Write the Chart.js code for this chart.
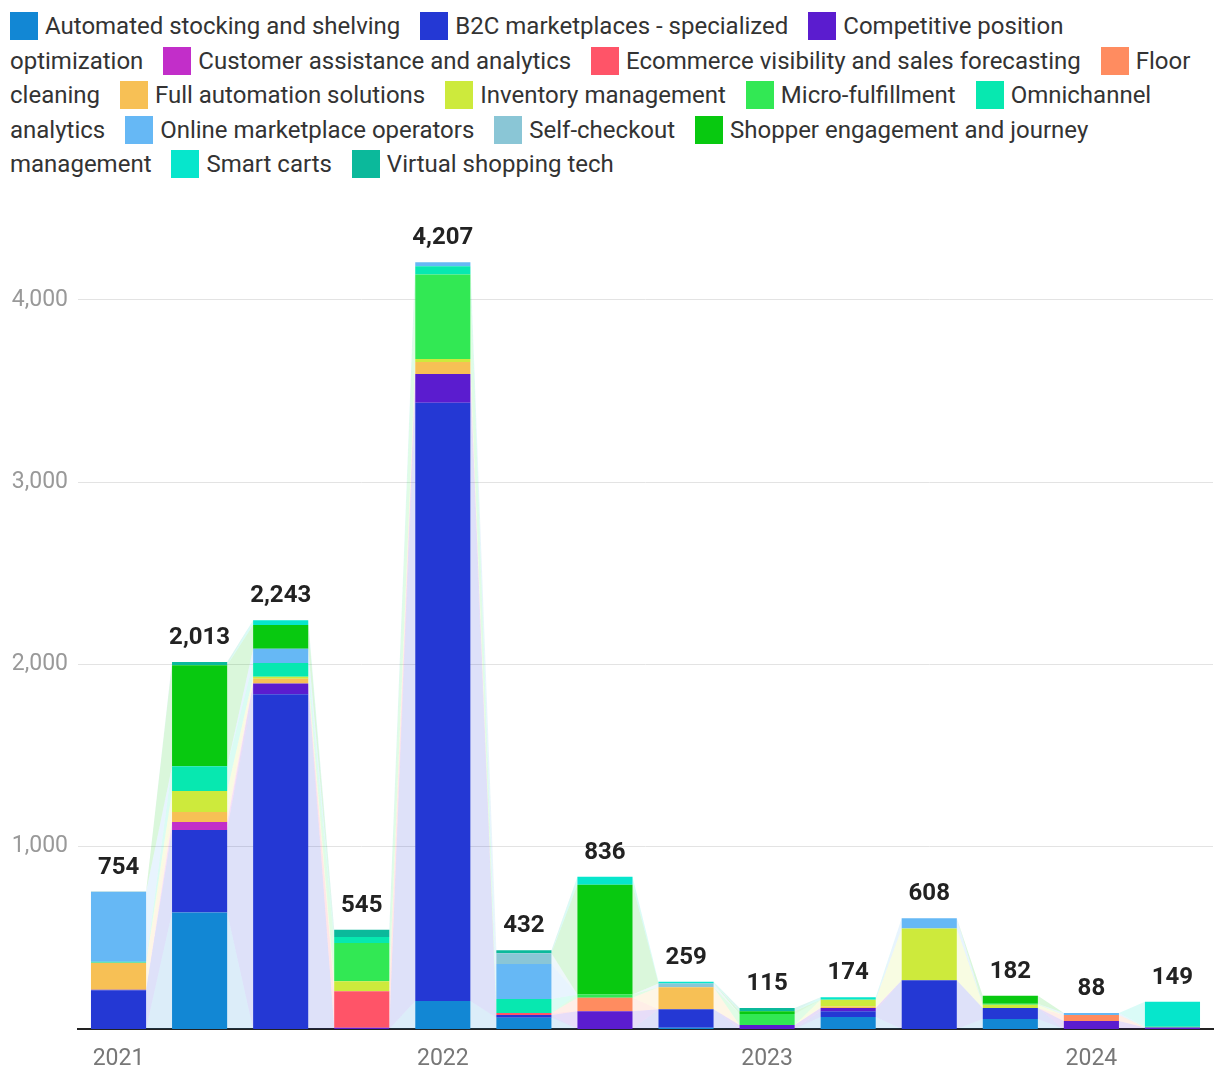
<!DOCTYPE html>
<html>
<head>
<meta charset="utf-8">
<script src="https://cdn.jsdelivr.net/npm/chart.js@4"></script>
<style>
  body { margin: 0; background: #fff; font-family: Roboto, sans-serif; }
  #legend {
    position: absolute; left: 10px; top: 9px; width: 1185px;
    font-size: 24px; line-height: 34.5px; color: #333;
  }
  #legend .item { margin-right: 14px; }
  #legend .sw {
    display: inline-block; width: 28px; height: 28px;
    margin-right: 7px; vertical-align: -6px;
  }
  #wrap { position: absolute; left: 0; top: 185px; width: 1220px; height: 903px; }
</style>
</head>
<body>
<div id="legend"></div>
<div id="wrap"><canvas id="chart"></canvas></div>
<script>
const quarters = ['2021 Q1', '2021 Q2', '2021 Q3', '2021 Q4', '2022 Q1', '2022 Q2', '2022 Q3', '2022 Q4',
  '2023 Q1', '2023 Q2', '2023 Q3', '2023 Q4', '2024 Q1', '2024 Q2'];

const seriesNames = ['Automated stocking and shelving', 'B2C marketplaces - specialized', 'Competitive position optimization',
  'Customer assistance and analytics', 'Ecommerce visibility and sales forecasting', 'Floor cleaning',
  'Full automation solutions', 'Inventory management', 'Micro-fulfillment', 'Omnichannel analytics',
  'Online marketplace operators', 'Self-checkout', 'Shopper engagement and journey management',
  'Smart carts', 'Virtual shopping tech'];

const seriesColors = ['#1287d4', '#2438d4', '#5b1ccf', '#c22ec9', '#ff5468', '#ff8c60', '#f7c055', '#cdea3c',
  '#32e854', '#07e8b0', '#66b8f5', '#8ac6d6', '#08c910', '#06e6cc', '#0bb99b'];

const automatedStocking = [0, 639, 0, 0, 153, 62, 0, 7, 0, 66, 0, 55, 0, 0];
const b2cMarketplaces   = [212, 453, 1837, 0, 3283, 15, 0, 102, 0, 31, 268, 60, 0, 0];
const competitivePos    = [4, 0, 58, 7, 158, 0, 98, 0, 22, 18, 0, 0, 44, 8];
const customerAssist    = [0, 44, 0, 0, 0, 0, 0, 0, 0, 0, 0, 0, 0, 0];
const ecommerceVis      = [0, 0, 0, 200, 0, 11, 0, 0, 0, 0, 0, 0, 0, 0];
const floorCleaning     = [0, 0, 0, 0, 0, 0, 73, 0, 0, 0, 0, 0, 33, 0];
const fullAutomation    = [148, 55, 27, 0, 66, 0, 0, 120, 0, 8, 0, 0, 0, 0];
const inventoryMgmt     = [0, 115, 11, 55, 16, 0, 0, 0, 0, 38, 284, 18, 0, 0];
const microFulfillment  = [0, 0, 0, 210, 464, 0, 18, 0, 60, 0, 0, 5, 0, 5];
const omnichannel       = [5, 135, 75, 33, 45, 76, 0, 0, 0, 0, 0, 0, 0, 0];
const onlineMarketplace = [382, 0, 78, 0, 22, 193, 0, 0, 0, 0, 56, 0, 11, 0];
const selfCheckout      = [3, 0, 0, 0, 0, 58, 0, 20, 0, 0, 0, 0, 0, 0];
const shopperEngagement = [0, 555, 131, 0, 0, 0, 603, 0, 16, 0, 0, 44, 0, 0];
const smartCarts        = [0, 0, 26, 0, 0, 0, 44, 10, 0, 13, 0, 0, 0, 136];
const virtualShopping   = [0, 17, 0, 40, 0, 17, 0, 0, 17, 0, 0, 0, 0, 0];

const seriesValues = [automatedStocking, b2cMarketplaces, competitivePos, customerAssist, ecommerceVis,
  floorCleaning, fullAutomation, inventoryMgmt, microFulfillment, omnichannel, onlineMarketplace,
  selfCheckout, shopperEngagement, smartCarts, virtualShopping];

const yTicks = [1000, 2000, 3000, 4000];

// html legend so long names wrap like the original
const legend = document.getElementById('legend');
legend.innerHTML = seriesNames.map((n, i) =>
  '<span class="item"><span class="sw" style="background:' + seriesColors[i] + '"></span>' + n + '</span>'
).join(' ');

const totals = quarters.map((q, i) => seriesValues.reduce((s, arr) => s + arr[i], 0));

function hexAlpha(hex, a) {
  const r = parseInt(hex.slice(1, 3), 16), g = parseInt(hex.slice(3, 5), 16), b = parseInt(hex.slice(5, 7), 16);
  return 'rgba(' + r + ',' + g + ',' + b + ',' + a + ')';
}

// translucent bands joining each segment to the same segment in the next bar
const bandPlugin = {
  id: 'bands',
  beforeDatasetsDraw(chart) {
    const ctx = chart.ctx;
    ctx.save();
    chart.data.datasets.forEach((ds, d) => {
      const meta = chart.getDatasetMeta(d);
      ctx.fillStyle = hexAlpha(seriesColors[d], 0.15);
      for (let i = 0; i < meta.data.length - 1; i++) {
        const a = meta.data[i], b = meta.data[i + 1];
        if (a.y === a.base && b.y === b.base) continue;
        const x1 = a.x + a.width / 2, x2 = b.x - b.width / 2;
        ctx.beginPath();
        ctx.moveTo(x1, a.y);
        ctx.lineTo(x2, b.y);
        ctx.lineTo(x2, b.base);
        ctx.lineTo(x1, a.base);
        ctx.closePath();
        ctx.fill();
      }
    });
    ctx.restore();
  }
};

const totalsPlugin = {
  id: 'totals',
  afterDatasetsDraw(chart) {
    const ctx = chart.ctx;
    const yScale = chart.scales.y;
    const meta = chart.getDatasetMeta(0);
    ctx.save();
    ctx.font = 'bold 24px Roboto';
    ctx.fillStyle = '#222';
    ctx.textAlign = 'center';
    ctx.textBaseline = 'bottom';
    totals.forEach((t, i) => {
      ctx.fillText(t.toLocaleString('en-US'), meta.data[i].x, yScale.getPixelForValue(t) - 12);
    });
    ctx.restore();
  }
};

new Chart(document.getElementById('chart'), {
  type: 'bar',
  data: {
    labels: quarters,
    datasets: seriesNames.map((n, i) => ({
      label: n,
      data: seriesValues[i],
      backgroundColor: seriesColors[i],
      borderWidth: 0,
      barPercentage: 0.68,
      categoryPercentage: 1
    }))
  },
  options: {
    responsive: true,
    maintainAspectRatio: false,
    animation: false,
    layout: { padding: { top: 20, right: 7, left: 0, bottom: 0 } },
    plugins: { legend: { display: false }, tooltip: { enabled: false } },
    scales: {
      x: {
        stacked: true,
        grid: { display: false },
        border: { color: '#222', width: 2 },
        ticks: {
          autoSkip: false, maxRotation: 0, padding: 8,
          color: '#777', font: { family: 'Roboto', size: 23 },
          callback: (v, i) => i % 4 === 0 ? quarters[i].slice(0, 4) : ''
        },
        afterFit: s => { s.height = 59; }
      },
      y: {
        stacked: true,
        min: 0, max: 4500,
        border: { display: false },
        grid: { drawTicks: false, color: '#e3e3e3', lineWidth: 1 },
        ticks: {
          padding: 10,
          color: '#999', font: { family: 'Roboto', size: 23 },
          callback: v => v.toLocaleString('en-US')
        },
        afterBuildTicks: s => { s.ticks = yTicks.map(v => ({ value: v })); },
        afterFit: s => { s.width = 78; }
      }
    }
  },
  plugins: [bandPlugin, totalsPlugin]
});
</script>
</body>
</html>
